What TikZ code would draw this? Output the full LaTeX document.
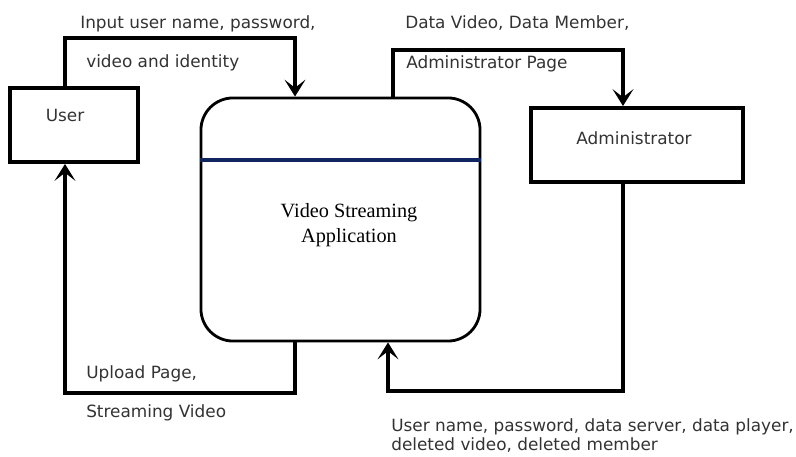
\documentclass[tikz,border=0pt]{standalone}
\usepackage{fontspec}
\setmainfont{DejaVu Sans}
\newfontfamily\serifface{Liberation Serif}
\usetikzlibrary{arrows.meta}
\tikzset{
  box/.style={draw, line width=2.8pt, minimum width=#1, minimum height=1.85cm, inner sep=0pt},
  flow/.style={line width=2.8pt, -{Stealth[length=0.42cm, width=0.52cm, inset=0.2cm]}},
  lbl/.style={anchor=base west, inner sep=0pt, text=black!80, font=\fontsize{12}{13}\selectfont},
}
\begin{document}
\begin{tikzpicture}[x=0.025cm, y=-0.025cm]
\useasboundingbox (0,0) rectangle (796,457);
% entities
\node[box=3.2cm] (user) at (74,125) {};
\node[lbl, anchor=base] (usertxt) at (65,122) {User};
\node[box=5.3cm] (admin) at (637,145) {};
\node[lbl, anchor=base] (admintxt) at (634,145) {Administrator};
% process
\node[draw, line width=2pt, rounded corners=0.8cm, minimum width=6.975cm,
      minimum height=6.075cm, inner sep=0pt] (app) at (340.5,219.5) {};
\draw[line width=2.2pt, color={rgb,255:red,16;green,38;blue,96}]
  (app.west |- 0,160) -- (app.east |- 0,160);
\node[font=\serifface\fontsize{14.4}{18.4}\selectfont, align=center, anchor=base]
  (apptxt) at (349,243) {Video Streaming\\Application};
% flows
\draw[flow] (user.north -| 65,0) |- (295,38) -- (app.north -| 295,0);
\draw[flow] (app.north -| 393,0) |- (623,50) -- (admin.north -| 623,0);
\draw[flow] (admin.south -| 623,0) |- (388,391) -- (app.south -| 388,0);
\draw[flow] (app.south -| 295,0) |- (65,393) -- (user.south -| 65,0);
% labels
\node[lbl] (in1) at (80,29) {Input user name, password,};
\node[lbl] (in2) at (86,68) {video and identity};
\node[lbl] (dv1) at (405,29) {Data Video, Data Member,};
\node[lbl] (dv2) at (406,69) {Administrator Page};
\node[lbl] (up1) at (86,379) {Upload Page,};
\node[lbl] (up2) at (86,418) {Streaming Video};
\node[lbl] (un1) at (391,432) {User name, password, data server, data player,};
\node[lbl] (un2) at (391,451) {deleted video, deleted member};
\end{tikzpicture}
\end{document}
